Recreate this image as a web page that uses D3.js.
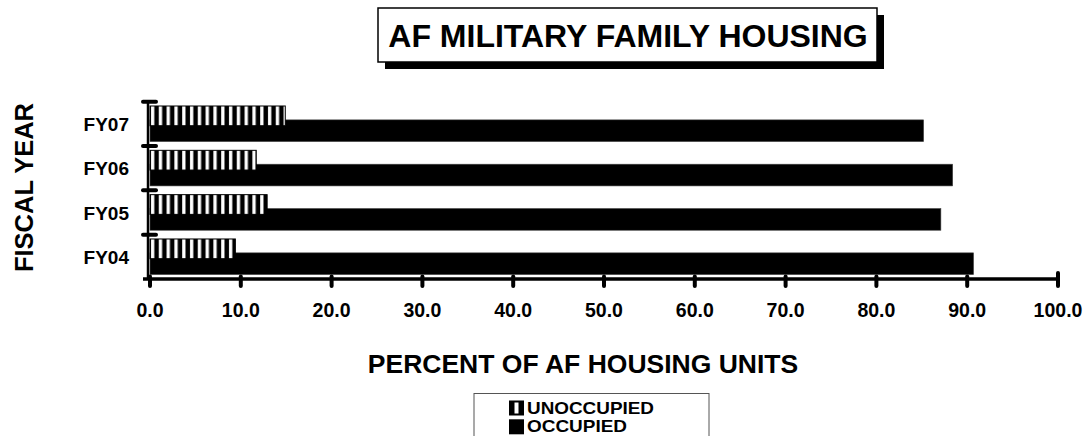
<!DOCTYPE html>
<html><head><meta charset="utf-8">
<script src="https://cdn.jsdelivr.net/npm/d3@7"></script>
<style>html,body{margin:0;padding:0;background:#fff;}svg{display:block;font-family:"Liberation Sans",Arial,sans-serif;font-weight:bold;}</style>
</head><body>
<svg id="c" width="1088" height="436"></svg>
<script>
const categories = ["FY04", "FY05", "FY06", "FY07"];
const unoccupied = [9.4, 12.9, 11.7, 14.9];
const occupied = [90.7, 87.1, 88.4, 85.2];
const xTicks = [0, 10, 20, 30, 40, 50, 60, 70, 80, 90, 100];
const seriesNames = ["UNOCCUPIED", "OCCUPIED"];
const titleText = "AF MILITARY FAMILY HOUSING";
const xTitle = "PERCENT OF AF HOUSING UNITS";
const yTitle = "FISCAL YEAR";

const svg = d3.select("#c");
const defs = svg.append("defs");
const pat = defs.append("pattern").attr("id","hatch").attr("patternUnits","userSpaceOnUse")
  .attr("width",7.8).attr("height",10).attr("x",148);
pat.append("rect").attr("width",7.8).attr("height",10).attr("fill","#000");
pat.append("rect").attr("x",3).attr("width",3.3).attr("height",10).attr("fill","#fff");

const x = d3.scaleLinear().domain([0,100]).range([150,1058]);
const y = d3.scaleBand().domain(categories.slice().reverse()).range([101.7,279]).padding(0);
const bw = y.bandwidth();

// Title box
svg.append("rect").attr("x",385).attr("y",15).attr("width",499).attr("height",54).attr("fill","#000");
svg.append("rect").attr("x",378).attr("y",8).attr("width",499).attr("height",54).attr("fill","#fff").attr("stroke","#000").attr("stroke-width",1.5);
svg.append("text").attr("x",628).attr("y",46.5).attr("text-anchor","middle").attr("font-size",32).text(titleText);

// Occupied bars (drawn first)
svg.append("g").selectAll("rect").data(categories).join("rect")
  .attr("x",x(0)).attr("y",d=>y(d)+bw*0.41)
  .attr("width",(d,i)=>x(occupied[i])-x(0)).attr("height",bw*0.49)
  .attr("fill","#000").attr("stroke","#444").attr("stroke-width",0.6);
// Unoccupied bars
svg.append("g").selectAll("rect").data(categories).join("rect")
  .attr("x",x(0)).attr("y",d=>y(d)+bw*0.097)
  .attr("width",(d,i)=>x(unoccupied[i])-x(0)).attr("height",bw*0.445)
  .attr("fill","url(#hatch)").attr("stroke","#000").attr("stroke-width",1);

// Y axis
svg.append("line").attr("x1",148).attr("x2",148).attr("y1",101.7).attr("y2",279).attr("stroke","#000").attr("stroke-width",2.5);
const yBounds = categories.map(c=>y(c));
svg.append("g").selectAll("line").data(yBounds).join("line")
  .attr("x1",143).attr("x2",156).attr("y1",d=>d).attr("y2",d=>d)
  .attr("stroke","#000").attr("stroke-width",4).attr("stroke-linecap","round");
svg.append("g").selectAll("text").data(categories).join("text")
  .attr("x",129).attr("y",d=>y(d)+bw/2+7).attr("text-anchor","end").attr("font-size",19).text(d=>d);

// X axis
svg.append("line").attr("x1",143).attr("x2",x(100)).attr("y1",279).attr("y2",279).attr("stroke","#000").attr("stroke-width",3.5);
svg.append("g").selectAll("line").data(xTicks).join("line")
  .attr("x1",d=>x(d)).attr("x2",d=>x(d)).attr("y1",d=>d===100?273:276.5).attr("y2",286)
  .attr("stroke","#000").attr("stroke-width",4).attr("stroke-linecap","round");
svg.append("g").selectAll("text").data(xTicks).join("text")
  .attr("x",d=>x(d)).attr("y",317).attr("text-anchor","middle").attr("font-size",19.5).text(d=>d3.format(".1f")(d));

// Axis titles
svg.append("text").attr("x",583).attr("y",373).attr("text-anchor","middle").attr("font-size",26.5).text(xTitle);
svg.append("text").attr("transform","translate(33,187.5) rotate(-90)").attr("text-anchor","middle").attr("font-size",25.5).text(yTitle);

// Legend
svg.append("rect").attr("x",474).attr("y",393.5).attr("width",235).attr("height",60).attr("fill","#fff").attr("stroke","#555").attr("stroke-width",1);
const legW = [127, 100];
const lg = svg.append("g").selectAll("g").data(seriesNames).join("g")
  .attr("transform",(d,i)=>`translate(509,${400.5+i*18.8})`);
lg.append("rect").attr("width",15).attr("height",15).attr("fill","#000");
lg.filter((d,i)=>i===0).append("rect").attr("x",5.5).attr("y",2).attr("width",4).attr("height",11).attr("fill","#fff");
lg.append("text").attr("x",18).attr("y",(d,i)=>i===0?13:12.5).attr("font-size",17)
  .attr("textLength",(d,i)=>legW[i]).attr("lengthAdjust","spacingAndGlyphs").text(d=>d);
</script>
</body></html>
